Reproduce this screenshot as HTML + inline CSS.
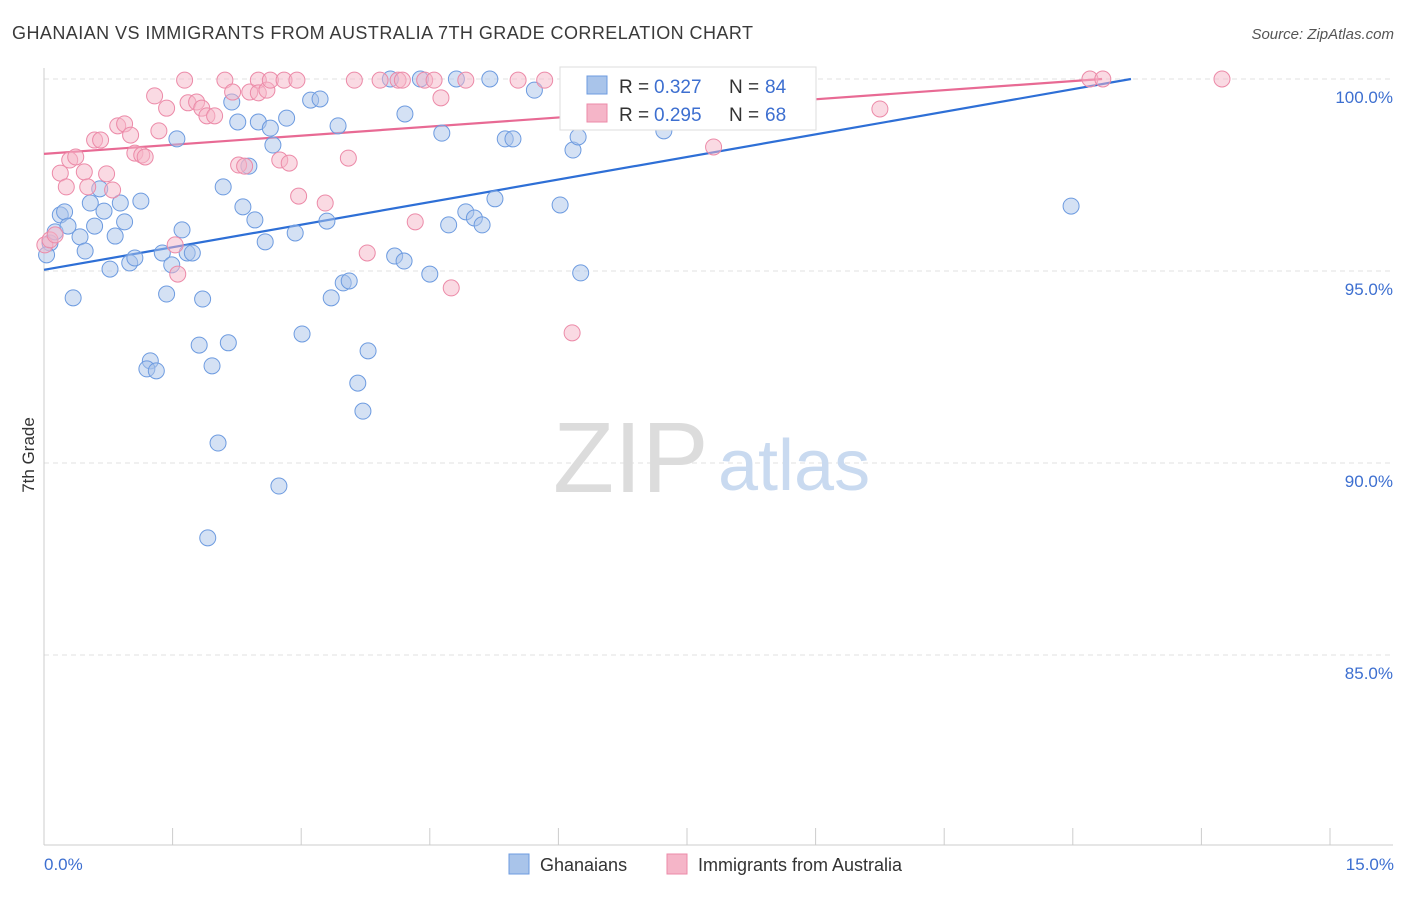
<!DOCTYPE html>
<html><head><meta charset="utf-8"><style>
body{margin:0;background:#fff;font-family:"Liberation Sans",sans-serif;}
svg text{font-family:"Liberation Sans",sans-serif;}
</style></head><body>
<svg id="chart" width="1406" height="892" xmlns="http://www.w3.org/2000/svg">
<text x="12" y="39" font-size="18" fill="#3a3a3a" textLength="741" lengthAdjust="spacing">GHANAIAN VS IMMIGRANTS FROM AUSTRALIA 7TH GRADE CORRELATION CHART</text>
<text x="1394" y="39" font-size="15" fill="#555" text-anchor="end" font-style="italic">Source: ZipAtlas.com</text>
<g id="grid"></g>
<g>
<text x="553" y="492" font-size="100" fill="#dcdcdc" font-family="Liberation Serif, serif">ZIP</text>
<text x="718" y="490" font-size="72" fill="#c9daf0">atlas</text>
</g>
<g id="axes"></g>
<g id="lines"></g>
<g id="points"></g>
<text transform="translate(34,455) rotate(-90)" font-size="17" fill="#333" text-anchor="middle">7th Grade</text>
<text x="44" y="870" font-size="17" fill="#3d6fd0">0.0%</text>
<text x="1394" y="870" font-size="17" fill="#3d6fd0" text-anchor="end">15.0%</text>
<g>
<rect x="560" y="67" width="256" height="63" fill="#fff" stroke="#ddd"/>
<rect x="587" y="76" width="20" height="18" fill="#a9c4ea" stroke="#6d9be0"/>
<text x="619" y="93" font-size="19" fill="#333">R = </text><text x="654" y="93" font-size="19" fill="#3d6fd0">0.327</text>
<text x="729" y="93" font-size="19" fill="#333">N = </text><text x="765" y="93" font-size="19" fill="#3d6fd0">84</text>
<rect x="587" y="104" width="20" height="18" fill="#f5b5c8" stroke="#ec8aa8"/>
<text x="619" y="121" font-size="19" fill="#333">R = </text><text x="654" y="121" font-size="19" fill="#3d6fd0">0.295</text>
<text x="729" y="121" font-size="19" fill="#333">N = </text><text x="765" y="121" font-size="19" fill="#3d6fd0">68</text>
</g>
<g>
<rect x="509" y="854" width="20" height="20" fill="#a9c4ea" stroke="#6d9be0"/>
<text x="540" y="871" font-size="18" fill="#333">Ghanaians</text>
<rect x="667" y="854" width="20" height="20" fill="#f5b5c8" stroke="#ec8aa8"/>
<text x="698" y="871" font-size="18" fill="#333">Immigrants from Australia</text>
</g>
</svg>
<script>
const yTicks=[100,95,90,85];
const yTickLabels=["100.0%","95.0%","90.0%","85.0%"];
const xTicks=[0,1.5,3,4.5,6,7.5,9,10.5,12,13.5,15];
const blueX=[0.07,0.13,0.19,0.24,0.28,0.34,0.42,0.48,0.54,0.59,0.65,0.70,0.77,0.83,0.89,0.94,1.00,1.06,1.13,1.24,1.20,1.31,1.38,1.43,1.49,1.55,1.61,1.67,1.73,1.81,1.85,1.91,1.96,2.03,2.09,2.15,2.19,2.26,2.32,2.39,2.46,2.50,2.58,2.64,2.67,2.74,2.83,2.93,3.01,3.11,3.22,3.30,3.35,3.43,3.49,3.56,3.66,3.72,3.78,4.04,4.09,4.20,4.21,4.39,4.50,4.64,4.72,4.81,4.92,5.02,5.11,5.20,5.26,5.38,5.47,5.72,6.02,6.17,6.23,6.26,6.93,7.23,11.98,0.03];
const blueY=[95.73,96.02,96.46,96.54,96.17,94.30,95.89,95.52,96.77,96.17,97.14,96.56,95.05,95.91,96.77,96.28,95.21,95.34,96.82,92.66,92.45,92.40,95.47,94.40,95.16,98.44,96.07,95.47,95.47,93.07,94.27,88.05,92.53,90.52,97.19,93.13,99.40,98.88,96.67,97.73,96.33,98.88,95.76,98.72,98.28,89.40,98.98,95.99,93.36,99.45,99.48,96.30,94.30,98.78,94.69,94.74,92.08,91.35,92.92,100,95.39,95.26,99.09,100,94.92,98.59,96.20,100,96.54,96.38,96.20,100,96.88,98.44,98.44,99.71,96.72,98.15,98.49,94.95,100,98.65,96.69,95.42];
const pinkX=[0.01,0.07,0.13,0.19,0.26,0.30,0.37,0.47,0.51,0.59,0.66,0.73,0.80,0.86,0.94,1.01,1.06,1.14,1.18,1.29,1.34,1.43,1.53,1.56,1.64,1.68,1.78,1.84,1.90,1.99,2.11,2.20,2.27,2.34,2.40,2.50,2.50,2.60,2.64,2.75,2.80,2.86,2.95,2.97,3.28,3.55,3.62,3.77,3.92,4.13,4.18,4.33,4.44,4.55,4.63,4.75,4.92,5.53,5.84,6.16,6.25,7.81,9.75,12.20,12.35,13.74];
const pinkY=[95.68,95.81,95.94,97.55,97.19,97.89,97.97,97.58,97.19,98.41,98.41,97.53,97.11,98.78,98.83,98.54,98.07,98.02,97.97,99.56,98.65,99.24,95.68,94.92,99.97,99.38,99.40,99.24,99.04,99.04,99.97,99.66,97.76,97.73,99.66,99.97,99.64,99.71,99.97,97.89,99.97,97.81,99.97,96.95,96.77,97.94,99.97,95.47,99.97,99.97,99.97,96.28,99.97,99.97,99.51,94.56,99.97,99.97,99.97,93.39,99.97,98.23,99.22,100,100,100];
const blueTrend=[95.03,0.392];
const pinkTrend=[98.05,0.158];
const NS="http://www.w3.org/2000/svg";
const X0=44,X1=1330,XMAX=15;
const xs=v=>X0+v/XMAX*(X1-X0);
const ys=v=>79+(100-v)*38.4;
function mk(tag,attrs,parent){const e=document.createElementNS(NS,tag);for(const k in attrs)e.setAttribute(k,attrs[k]);parent.appendChild(e);return e;}
const grid=document.getElementById('grid'),axes=document.getElementById('axes');
yTicks.forEach((t,i)=>{
 const l=mk('line',{x1:44,x2:1393,y1:ys(t),y2:ys(t),stroke:'#e2e2e2','stroke-dasharray':'5,4'},grid);
 
 
 const tx=mk('text',{x:1393,y:ys(t)+24,'font-size':17,fill:'#3d6fd0','text-anchor':'end'},axes);
 tx.textContent=yTickLabels[i];
 
 
});
const bx=mk('line',{x1:44,x2:1393,y1:845,y2:845,stroke:'#ccc'},axes);


const ly=mk('line',{x1:44,x2:44,y1:68,y2:845,stroke:'#ccc'},axes);


xTicks.forEach(t=>{
 const l=mk('line',{x1:xs(t),x2:xs(t),y1:828,y2:845,stroke:'#ccc'},axes);
 
 
});
const lines=document.getElementById('lines');
function trend(tr,color,name){
 const xe=Math.min(XMAX,(100-tr[0])/tr[1]);
 const l=mk('line',{x1:xs(0),y1:ys(tr[0]),x2:xs(xe),y2:ys(tr[0]+tr[1]*xe),stroke:color,'stroke-width':2.2},lines);
 
 
}
const pts=document.getElementById('points');
function dots(X,Y,fill,stroke,name){
 X.forEach((x,i)=>{
  const c=mk('circle',{cx:xs(x),cy:ys(Y[i]),r:8,fill:fill,'fill-opacity':0.5,stroke:stroke,'stroke-width':1},pts);
  
  
 });
}
dots(blueX,blueY,'#a9c4ea','#6d9be0','ghanaian-point');
dots(pinkX,pinkY,'#f5b5c8','#ec8aa8','australia-point');
trend(blueTrend,'#2e6fd6','ghanaian-trend-line');
trend(pinkTrend,'#e86a94','australia-trend-line');
</script>
</body></html>
